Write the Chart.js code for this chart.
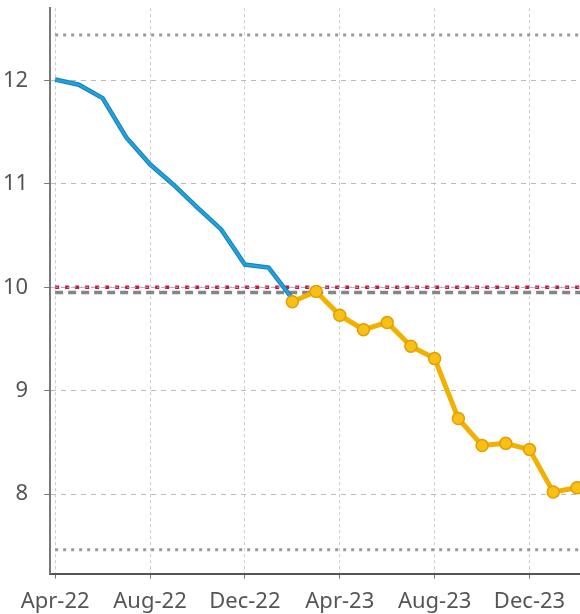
<!DOCTYPE html>
<html lang="en">
<head>
    <meta charset="UTF-8">
    <title>Trend chart</title>
    <script src="https://cdn.jsdelivr.net/npm/chart.js"></script>
    <style>
        html, body { margin: 0; padding: 0; background: #fff; overflow: hidden; }
        #frame { position: relative; width: 580px; height: 614px; overflow: hidden; }
        #wrap { position: absolute; left: -16px; top: -21px; width: 604px; height: 646px; }
    </style>
</head>
<body>
    <div id="frame"><div id="wrap"><canvas id="trendChart"></canvas></div></div>
    <script>
        // months along the x axis
        const months = ['Apr-22','May-22','Jun-22','Jul-22','Aug-22','Sep-22','Oct-22','Nov-22','Dec-22',
                        'Jan-23','Feb-23','Mar-23','Apr-23','May-23','Jun-23','Jul-23','Aug-23','Sep-23',
                        'Oct-23','Nov-23','Dec-23','Jan-24','Feb-24'];
        // history (blue) and recent (yellow) values
        const historyValues = [12.01, 11.96, 11.83, 11.45, 11.19, 10.99, 10.77, 10.56, 10.22, 10.19, 9.89,
                               null, null, null, null, null, null, null, null, null, null, null, null];
        const recentValues = [null, null, null, null, null, null, null, null, null, null, 9.86,
                              9.96, 9.73, 9.59, 9.66, 9.43, 9.31, 8.73, 8.47, 8.49, 8.43, 8.02, 8.06];
        // horizontal reference levels
        const upperLevel = 12.44;
        const targetLevel = 10.0;
        const baseLevel = 9.95;
        const lowerLevel = 7.46;
        const xTicks = [0, 4, 8, 12, 16, 20];
        const yTicks = [8, 9, 10, 11, 12];
        const xMin = -0.21, xMax = 22.15;

        const toPoints = arr => arr.map((v, i) => ({ x: i, y: v }));
        const flat = v => [{ x: 0, y: v }, { x: xMax, y: v }];

        const refStyle = (color, dash, width, offset) => ({
            borderColor: color, borderDash: dash, borderWidth: width,
            borderDashOffset: offset || 0,
            pointRadius: 0, fill: false, order: 5
        });

        const ctx = document.getElementById('trendChart').getContext('2d');
        new Chart(ctx, {
            type: 'line',
            data: {
                datasets: [
                    Object.assign({ data: flat(upperLevel) }, refStyle('#999999', [3, 5], 3)),
                    Object.assign({ data: flat(lowerLevel) }, refStyle('#999999', [3, 5], 3)),
                    // base level: grey-edged dashes with a pale green core
                    Object.assign({ data: flat(baseLevel) }, refStyle('#858585', [8, 5], 3.5)),
                    Object.assign({ data: flat(baseLevel) }, refStyle('#b8d4c0', [6, 7], 1.5, -1)),
                    Object.assign({ data: flat(targetLevel) }, refStyle('#aaaaaa', [3, 3], 1)),
                    Object.assign({ data: flat(targetLevel) }, refStyle('#cc1240', [4, 6], 3.5)),
                    // blue history: dark edge under a lighter core
                    {
                        data: toPoints(historyValues),
                        borderColor: '#1b7fb4',
                        borderWidth: 4.5,
                        pointRadius: 0,
                        tension: 0,
                        order: 3
                    },
                    {
                        data: toPoints(historyValues),
                        borderColor: '#1ea3df',
                        borderWidth: 2.5,
                        pointRadius: 0,
                        tension: 0,
                        order: 2
                    },
                    {
                        data: toPoints(recentValues),
                        borderColor: '#f2b000',
                        borderWidth: 5,
                        pointRadius: 6,
                        pointBackgroundColor: '#f8bf14',
                        pointBorderColor: '#e29e00',
                        pointBorderWidth: 1.5,
                        tension: 0,
                        order: 1
                    }
                ]
            },
            options: {
                responsive: true,
                maintainAspectRatio: false,
                animation: false,
                layout: { padding: { left: 3, right: 0, top: 0, bottom: 0 } },
                plugins: { legend: { display: false }, tooltip: { enabled: false } },
                scales: {
                    x: {
                        type: 'linear',
                        min: xMin,
                        max: xMax,
                        afterBuildTicks: s => { s.ticks = xTicks.map(v => ({ value: v })); },
                        ticks: {
                            callback: v => months[v],
                            color: '#555',
                            font: { family: 'Noto Sans', size: 22 },
                            maxRotation: 0,
                            padding: 10
                        },
                        grid: { color: '#cccccc', tickLength: 5, tickColor: '#777' },
                        border: { display: true, color: '#555', width: 2, dash: [3, 3] }
                    },
                    y: {
                        min: 7.23,
                        max: 12.7,
                        afterBuildTicks: s => { s.ticks = yTicks.map(v => ({ value: v })); },
                        ticks: {
                            color: '#555',
                            font: { family: 'Noto Sans', size: 22 },
                            padding: 16
                        },
                        grid: { color: '#bbbbbb', tickLength: 6, tickColor: '#777' },
                        border: { display: true, color: '#777', width: 2, dash: [5, 5] }
                    }
                }
            }
        });
    </script>
</body>
</html>
